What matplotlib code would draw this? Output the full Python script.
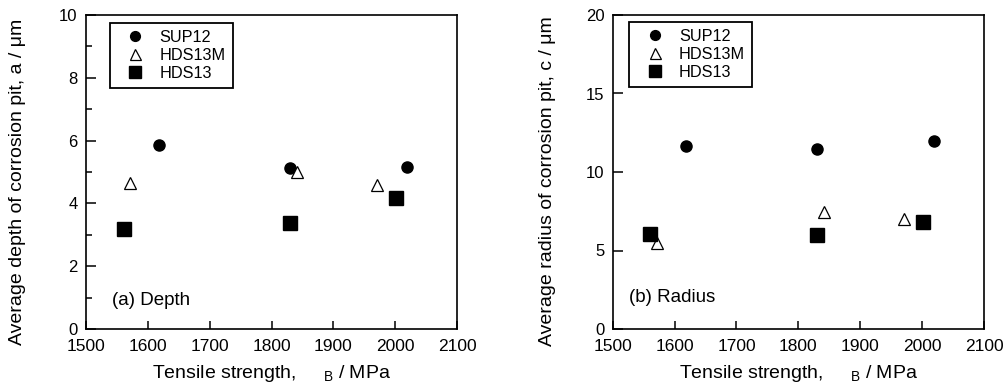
import matplotlib
matplotlib.use("Agg")
import matplotlib.pyplot as plt
from matplotlib.ticker import MultipleLocator

plt.rcParams['font.family'] = ['Liberation Sans', 'DejaVu Sans']
plt.rcParams['mathtext.fontset'] = 'custom'
plt.rcParams['mathtext.rm'] = 'Liberation Sans'

series = ["SUP12", "HDS13M", "HDS13"]

# Depth panel (a)
sup12_x_a = [1618, 1830, 2019]
sup12_depth = [5.86, 5.12, 5.17]
hds13m_x_a = [1571, 1841, 1971]
hds13m_depth = [4.66, 4.99, 4.59]
hds13_x_a = [1561, 1830, 2001]
hds13_depth = [3.19, 3.37, 4.18]

# Radius panel (b)
sup12_x_b = [1618, 1830, 2019]
sup12_radius = [11.63, 11.45, 11.95]
hds13m_x_b = [1571, 1841, 1971]
hds13m_radius = [5.45, 7.47, 6.98]
hds13_x_b = [1561, 1830, 2001]
hds13_radius = [6.03, 5.99, 6.8]

fig = plt.figure(figsize=(10.06, 3.89), dpi=100)
W, H = 1006, 389
axa = fig.add_axes([86/W, (H-329)/H, 371/W, 314/H])
axb = fig.add_axes([612.7/W, (H-329)/H, 371.3/W, 314/H])

fs_tick = 12.5
fs_label = 14
fs_tag = 13.5
fs_leg = 11.7

def style(ax, ymax, ymajor, yminor, ylabel, tag, xs, ys, ylab_x, leg_x, leg_y, tag_x, tag_y):
    ax.plot(xs[0], ys[0], 'o', color='black', markersize=8, linestyle='none', label=series[0])
    ax.plot(xs[1], ys[1], '^', markerfacecolor='white', markeredgecolor='black', markeredgewidth=0.9,
            markersize=9, linestyle='none', label=series[1])
    ax.plot(xs[2], ys[2], 's', color='black', markersize=9.5, linestyle='none', label=series[2])
    ax.set_xlim(1500, 2100)
    ax.set_ylim(0, ymax)
    ax.xaxis.set_major_locator(MultipleLocator(100))
    ax.yaxis.set_major_locator(MultipleLocator(ymajor))
    if yminor:
        ax.yaxis.set_minor_locator(MultipleLocator(yminor))
    ax.tick_params(axis='both', which='both', direction='in', top=False, right=False,
                   labelsize=fs_tick, width=1.1)
    ax.tick_params(axis='y', which='major', length=7.5, pad=6, labelsize=12)
    ax.tick_params(axis='y', which='minor', length=4)
    ax.tick_params(axis='x', which='major', length=6, pad=7)
    for lbl in ax.get_yticklabels():
        lbl.set_va('center_baseline')
    for s in ax.spines.values():
        s.set_linewidth(1.2)
    ax.set_ylabel(ylabel, fontsize=fs_label)
    ax.yaxis.set_label_coords(ylab_x, 0.47)
    ax.set_xlabel(r"Tensile strength,  $\;\;\;_{\mathrm{B}}$ / MPa", fontsize=fs_label)
    ax.xaxis.set_label_coords(0.5, -0.108)
    ax.text(tag_x, tag_y, tag, transform=ax.transAxes, fontsize=fs_tag, ha='left', va='center')
    leg = ax.legend(loc='upper left', bbox_to_anchor=(leg_x, leg_y), fontsize=fs_leg, frameon=True,
                    fancybox=False, edgecolor='black', framealpha=1, borderpad=0.45,
                    handletextpad=0.4, labelspacing=0.18, handlelength=2.2, borderaxespad=0,
                    markerscale=0.88)
    leg.get_frame().set_linewidth(1.3)

style(axa, 10, 2, 1, "Average depth of corrosion pit, a / \u03bcm", "(a) Depth",
      [sup12_x_a, hds13m_x_a, hds13_x_a], [sup12_depth, hds13m_depth, hds13_depth],
      -0.162, 0.065, 0.976, 0.069, 0.092)
style(axb, 20, 5, None, "Average radius of corrosion pit, c / \u03bcm", "(b) Radius",
      [sup12_x_b, hds13m_x_b, hds13_x_b], [sup12_radius, hds13m_radius, hds13_radius],
      -0.153, 0.045, 0.979, 0.045, 0.10)

fig.savefig("out.png", dpi=100)
